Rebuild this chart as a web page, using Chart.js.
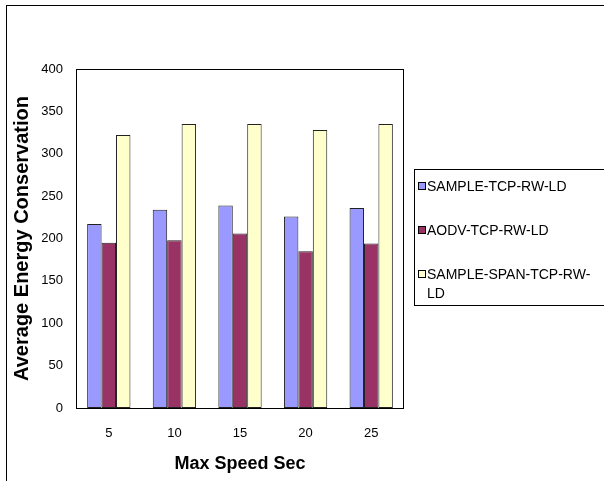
<!DOCTYPE html>
<html>
<head>
<meta charset="utf-8">
<script src="https://cdn.jsdelivr.net/npm/chart.js@4"></script>
<style>
  body { margin: 0; background: #fff; }
  #wrap { width: 604px; height: 481px; }
</style>
</head>
<body>
<div id="wrap"><canvas id="grafico" width="604" height="481"></canvas></div>
<script>
const categories = ["5", "10", "15", "20", "25"];
const seriesNames = ["SAMPLE-TCP-RW-LD", "AODV-TCP-RW-LD", "SAMPLE-SPAN-TCP-RW-LD"];
const sampleTcp = [217, 234, 239, 226, 236];
const aodvTcp = [195, 198, 206, 185, 194];
const sampleSpanTcp = [322, 335, 335, 328, 335];
const seriesColors = ["#9999FF", "#993366", "#FFFFCC"];

const FONT = '"Liberation Sans", Arial, sans-serif';

// Excel-style frame, plot border and legend box
const marcoPlugin = {
    id: "marco",
    beforeDraw(chart) {
        const c = chart.ctx;
        c.save();
        c.fillStyle = "#fff";
        c.fillRect(0, 0, chart.width, chart.height);
        c.strokeStyle = "#000";
        c.lineWidth = 1;
        c.strokeRect(6.5, 5.5, 700, 600);
        c.restore();
    },
    afterDatasetsDraw(chart) {
        const a = chart.chartArea;
        const c = chart.ctx;
        c.save();
        c.strokeStyle = "#000";
        c.lineWidth = 1;
        c.strokeRect(Math.round(a.left) + 0.5, Math.round(a.top) + 0.5,
            Math.round(a.right - a.left) - 1, Math.round(a.bottom - a.top));
        c.restore();
    },
    afterDraw(chart) {
        const c = chart.ctx;
        c.save();
        c.strokeStyle = "#000";
        c.lineWidth = 1;
        c.strokeRect(414.5, 169.5, 300, 136);
        c.font = "14px " + FONT;
        c.textBaseline = "middle";
        const maxW = 604 - 427 - 2;
        chart.data.datasets.forEach(function(ds, i) {
            const y = 186 + 44 * i;
            c.fillStyle = ds.backgroundColor;
            c.fillRect(418, y - 3, 7, 7);
            c.strokeStyle = "#000";
            c.strokeRect(418.5, y - 3.5, 7, 7);
            // wrap label after hyphens
            const parts = ds.label.match(/[^-]+-?/g);
            let lines = [""];
            parts.forEach(function(p) {
                const cur = lines[lines.length - 1];
                if (cur && c.measureText(cur + p).width > maxW) lines.push(p);
                else lines[lines.length - 1] = cur + p;
            });
            c.fillStyle = "#000";
            lines.forEach(function(l, k) {
                c.fillText(l, 427, y + 1 + k * 19);
            });
        });
        c.restore();
    }
};

const ctx = document.getElementById("grafico").getContext("2d");

new Chart(ctx, {
    type: "bar",
    data: {
        labels: categories,
        datasets: [
            { label: seriesNames[0], data: sampleTcp, backgroundColor: seriesColors[0] },
            { label: seriesNames[1], data: aodvTcp, backgroundColor: seriesColors[1] },
            { label: seriesNames[2], data: sampleSpanTcp, backgroundColor: seriesColors[2] }
        ]
    },
    options: {
        responsive: false,
        animation: false,
        layout: { padding: { top: 69, right: 200, left: 0, bottom: 0 } },
        datasets: {
            bar: {
                borderColor: "#222",
                borderWidth: 1,
                borderSkipped: false,
                categoryPercentage: 0.66,
                barPercentage: 1
            }
        },
        plugins: {
            legend: { display: false },
            tooltip: { enabled: false }
        },
        scales: {
            x: {
                grid: { display: false, drawTicks: false },
                border: { display: false },
                ticks: { color: "#000", padding: 18, font: { family: FONT, size: 13 } },
                title: {
                    display: true,
                    text: "Max Speed Sec",
                    color: "#000",
                    font: { family: FONT, size: 18, weight: "bold" },
                    padding: { top: 0, bottom: 6 }
                },
                afterFit(scale) { scale.height = 73; }
            },
            y: {
                min: 0,
                max: 400,
                grid: { display: false, drawTicks: false },
                border: { display: false },
                ticks: { stepSize: 50, color: "#000", padding: 13, font: { family: FONT, size: 13 } },
                title: {
                    display: true,
                    text: "Average Energy Conservation",
                    color: "#000",
                    font: { family: FONT, size: 20, weight: "bold" },
                    padding: { top: 10, bottom: 0 }
                },
                afterFit(scale) { scale.width = 76; }
            }
        }
    },
    plugins: [marcoPlugin]
});
</script>
</body>
</html>
